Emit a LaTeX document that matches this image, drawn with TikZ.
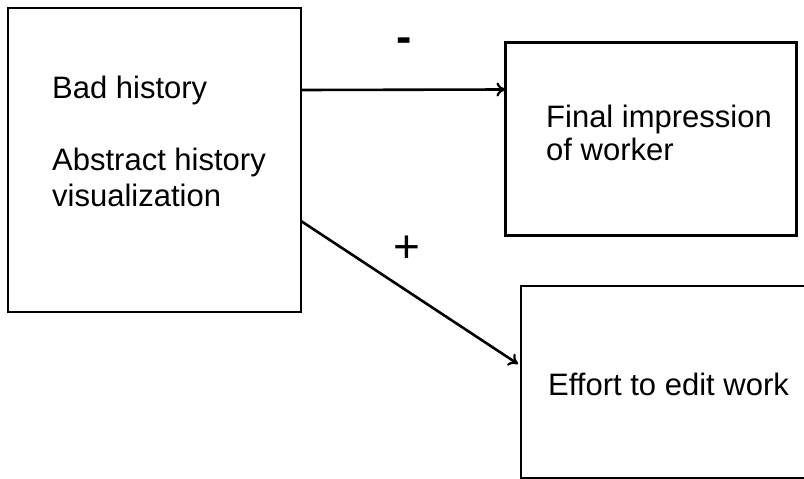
\documentclass[tikz,border=0pt]{standalone}
\usepackage{fontspec}
\setmainfont{Liberation Sans}
\usetikzlibrary{arrows.meta}
\begin{document}
\begin{tikzpicture}[x=1pt,y=-1pt,
  box/.style={draw=black,line width=2.6pt,minimum width=#1,inner sep=0pt,outer sep=0pt},
  txt/.style={anchor=base west,inner sep=0pt,font=\fontsize{31}{36}\selectfont},
  sign/.style={inner sep=0pt,font=\fontsize{46}{46}\selectfont},
  conn/.style={line width=2.6pt,-{To[length=9pt,width=14pt,line width=2.2pt]}}]
\useasboundingbox (0,0) rectangle (804,479);
\clip (0,0) rectangle (804,479);
\node[box=293pt,minimum height=304pt] (L) at (154.5,160) {};
\node[box=291pt,minimum height=193pt] (T) at (651,139) {};
\node[box=309pt,minimum height=192pt] (B) at (675.5,382) {};
\node[txt] (t1) at (52,98) {Bad history};
\node[txt] (t2) at (52,170) {Abstract history};
\node[txt] (t3) at (52,206) {visualization};
\node[txt] (t4) at (546,127) {Final impression};
\node[txt] (t5) at (546,160) {of worker};
\node[txt] (t6) at (548,395) {Effort to edit work};
\node[sign] (m) at (404,45) {\textbf{-}};
\node[sign] (p) at (407,249) {+};
\draw[conn] ([yshift=-82pt]L.north east) -- ([yshift=-47pt]T.north west);
\draw[conn] ([yshift=-213pt]L.north east) -- ([xshift=-3pt,yshift=-78pt]B.north west);
\end{tikzpicture}
\end{document}
